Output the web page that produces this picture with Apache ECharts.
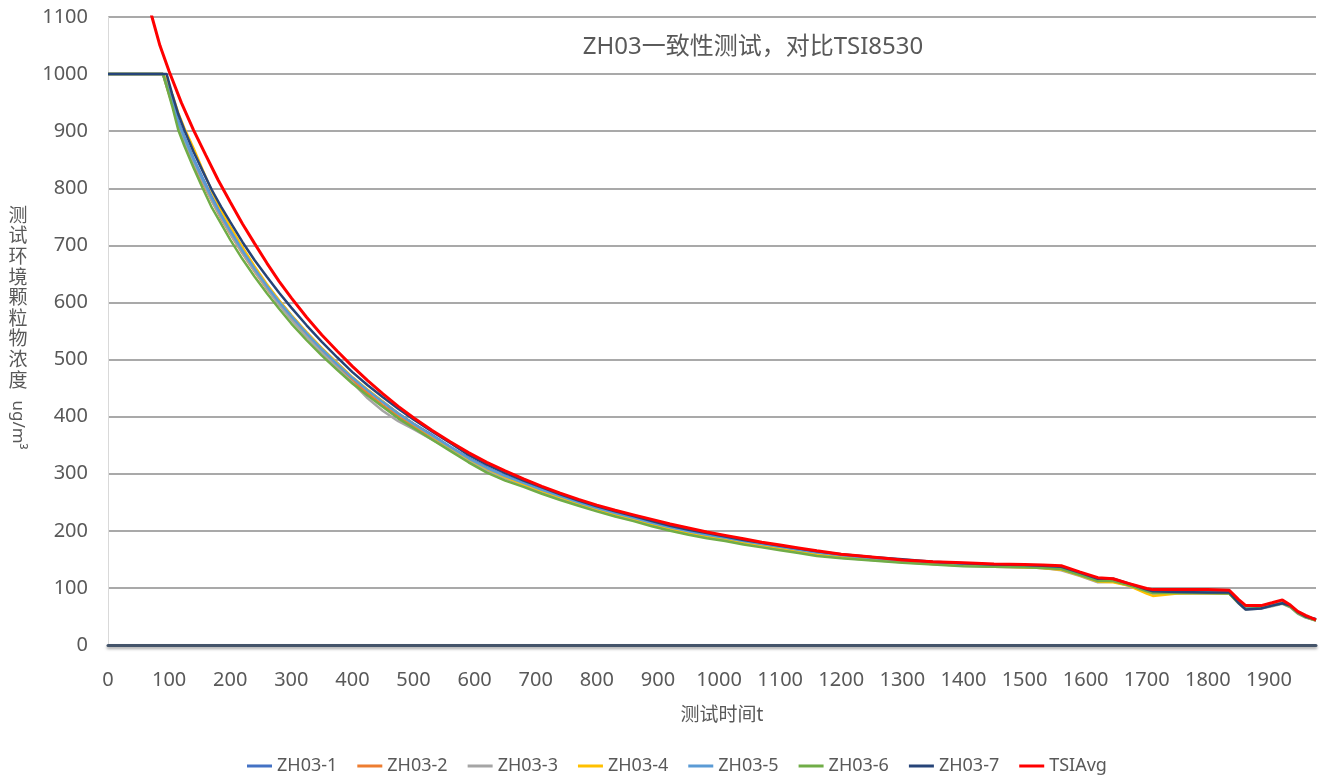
<!DOCTYPE html>
<html>
<head>
<meta charset="utf-8">
<script src="https://cdn.jsdelivr.net/npm/echarts@6/dist/echarts.min.js"></script>
<style>html,body{margin:0;padding:0;background:#fff}#c{width:1320px;height:778px}</style>
</head>
<body>
<div id="c"></div>
<script>
const titleText = 'ZH03一致性测试，对比TSI8530';
const xAxisTitle = '测试时间t';
const yAxisTitleCJK = '测试环境颗粒物浓度';
const yAxisTitleUnit = 'ug/m³';
const seriesNames = ['ZH03-1','ZH03-2','ZH03-3','ZH03-4','ZH03-5','ZH03-6','ZH03-7','TSIAvg'];

// sensor sample times
const sensorX = [0,90,96,105,115,125,140,155,170,185,200,220,240,260,280,300,325,350,375,400,425,450,475,500,530,560,590,620,650,680,710,740,770,800,830,860,890,920,950,980,1010,1040,1070,1100,1130,1160,1200,1250,1300,1350,1400,1450,1500,1530,1560,1590,1620,1645,1670,1700,1710,1750,1800,1835,1850,1862,1887,1905,1922,1935,1947,1960,1977];

const zh03_1 = [1000,1000,985,955,918,890,852,818,785,755,728,693,660,630,603,577,547,519,494,468,446,426,406,388,368,347,328,311,296,284,272,261,250,240,231,223,214,206,199,193,188,182,177,172,167,162,157,152,148,145,142,140,139,138,136,126,115,114,107,96,93,93,93,92,77,63,65,70,75,69,58,50,45];
const zh03_2 = [1000,1000,978,948,910,882,844,809,778,747,720,686,654,624,597,571,541,514,488,463,441,420,401,383,363,344,324,307,293,281,269,258,247,237,228,220,211,203,196,190,185,179,174,169,164,159,154,150,146,142,140,137,136,135,133,123,112,112,105,94,91,91,91,90,74,63,65,69,73,67,56,49,43];
const zh03_3 = [1000,1000,980,950,912,884,846,812,778,749,721,687,655,625,596,570,540,512,486,460,432,410,392,378,360,342,323,306,292,280,268,257,246,236,227,219,210,202,195,189,184,178,173,168,163,158,153,149,145,142,139,137,136,135,131,121,110,111,104,93,90,91,90,90,73,62,64,68,72,66,55,48,43];
const zh03_4 = [1000,1000,990,965,932,905,870,832,795,762,733,697,663,632,604,578,548,520,494,469,447,426,405,387,366,346,326,309,294,282,270,259,248,238,229,221,212,204,197,191,186,180,175,170,165,160,155,150,146,143,140,138,136,135,132,122,111,110,104,90,86,90,91,90,75,64,66,71,75,68,57,50,44];
const zh03_5 = [1000,1000,982,953,916,889,851,816,783,753,726,691,659,629,601,576,546,518,492,468,446,425,405,387,367,347,327,310,296,284,272,261,250,240,231,223,214,206,199,193,188,182,177,172,167,162,157,152,148,145,142,140,139,138,136,126,115,114,107,96,93,93,93,92,76,64,66,70,74,68,57,50,44];
const zh03_6 = [1000,1000,978,944,902,874,836,800,766,738,710,676,645,616,589,563,534,507,482,458,437,417,397,380,360,340,320,302,288,277,265,254,244,234,225,217,208,200,193,187,182,176,171,166,161,156,152,148,144,141,138,137,136,135,133,123,112,112,105,94,91,91,91,90,74,63,65,69,73,67,56,49,43];
const zh03_7 = [1000,1000,1000,965,930,902,864,830,797,768,741,706,674,645,617,591,560,531,504,478,455,434,414,395,374,354,333,316,301,288,276,264,253,243,234,226,217,209,202,196,190,184,179,174,169,164,159,154,150,146,143,141,140,139,137,127,116,116,108,97,94,93,92,92,74,62,64,69,73,69,58,50,45];

// TSI reference
const tsiX = [60,72,85,100,120,140,160,180,200,220,240,260,280,300,325,350,375,400,425,450,475,500,530,560,590,620,650,680,710,740,770,800,830,860,890,920,950,980,1010,1040,1070,1100,1130,1160,1200,1250,1300,1350,1400,1450,1500,1530,1560,1590,1620,1645,1670,1700,1710,1750,1800,1835,1850,1862,1887,1905,1922,1935,1947,1960,1977];
const tsiAvg = [1145,1100,1050,1005,950,902,858,815,776,738,703,669,637,608,574,543,515,488,463,440,418,398,376,356,337,320,305,291,278,266,255,245,236,228,220,212,205,198,192,186,180,175,170,165,159,154,149,146,144,142,141,140,139,128,118,116,108,99,97,97,97,96,80,69,69,74,79,70,59,52,44];

const colors = ['#4472C4','#ED7D31','#A5A5A5','#FFC000','#5B9BD5','#70AD47','#264478','#FF0000'];
const sensorSets = [zh03_1, zh03_2, zh03_3, zh03_4, zh03_5, zh03_6, zh03_7];

const FONT = "'Noto Sans', 'Noto Sans CJK SC', sans-serif";
const zip = (xs, ys) => xs.map((x, i) => [x, ys[i]]);
const plain = v => String(v);

const series = sensorSets.map((vals, i) => ({
  name: seriesNames[i], type: 'line', data: zip(sensorX, vals),
  showSymbol: false, symbol: 'none', clip: true,
  lineStyle: { color: colors[i], width: 2.5 }, itemStyle: { color: colors[i] }
}));
series.push({
  name: seriesNames[7], type: 'line', data: zip(tsiX, tsiAvg),
  showSymbol: false, symbol: 'none', clip: true,
  lineStyle: { color: colors[7], width: 3 }, itemStyle: { color: colors[7] }
});

const chart = echarts.init(document.getElementById('c'), null, { renderer: 'canvas' });
chart.setOption({
  animation: false,
  backgroundColor: '#ffffff',
  color: colors,
  grid: { left: 108, right: 4, top: 17, bottom: 133, containLabel: false },
  xAxis: {
    type: 'value', min: 0, max: 1977, interval: 100,
    axisLine: { show: true, lineStyle: { color: '#44546A', width: 3, shadowColor: 'rgba(0,0,0,0.35)', shadowBlur: 3, shadowOffsetY: 2 } },
    axisTick: { show: false },
    splitLine: { show: false },
    axisLabel: { showMaxLabel: false, color: '#595959', fontSize: 20, fontFamily: FONT, margin: 25, formatter: plain }
  },
  yAxis: {
    type: 'value', min: 0, max: 1100, interval: 100,
    axisLine: { show: true, lineStyle: { color: '#D9D9D9', width: 1 } },
    axisTick: { show: false },
    splitLine: { show: true, lineStyle: { color: '#A9A9A9', width: 2 } },
    axisLabel: { color: '#595959', fontSize: 20, fontFamily: FONT, margin: 20, formatter: plain }
  },
  legend: {
    data: seriesNames, left: 242, top: 752, icon: 'rect', itemWidth: 25, itemHeight: 3, itemGap: 20,
    textStyle: { color: '#595959', fontSize: 18, fontFamily: FONT }
  },
  graphic: [
    { type: 'text', x: 753, y: 47, style: { text: titleText, fill: '#595959', font: "24px " + FONT, align: 'center', verticalAlign: 'middle', textAlign: 'center', textVerticalAlign: 'middle' } },
    { type: 'text', x: 722, y: 716, style: { text: xAxisTitle, fill: '#595959', font: "19px " + FONT, align: 'center', verticalAlign: 'middle', textAlign: 'center', textVerticalAlign: 'middle' } },
    { type: 'text', x: 18, y: 206, style: { text: yAxisTitleCJK.split('').join('\n'), fill: '#595959', font: "19px " + FONT, lineHeight: 20.6, align: 'center', verticalAlign: 'top', textAlign: 'center', textVerticalAlign: 'top' } },
    { type: 'text', x: 18, y: 425, rotation: -Math.PI / 2, style: { text: yAxisTitleUnit, fill: '#595959', font: "17px " + FONT, align: 'center', verticalAlign: 'middle', textAlign: 'center', textVerticalAlign: 'middle' } }
  ],
  series: series
});
</script>
</body>
</html>
